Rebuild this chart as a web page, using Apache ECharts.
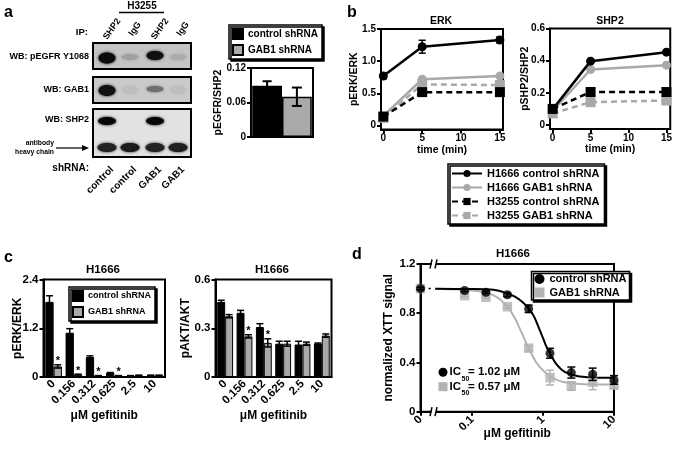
<!DOCTYPE html>
<html><head><meta charset="utf-8">
<script src="https://cdn.jsdelivr.net/npm/echarts@6/dist/echarts.min.js"></script>
<style>html,body{margin:0;padding:0;background:#fff}#chart{width:675px;height:449px}</style>
</head><body><div id="chart"></div>
<script>
// ================= DATA =================
// panel a
const aGroups = ['control shRNA', 'GAB1 shRNA'];
const aValues = [0.089, 0.070];
const aErrors = [0.008, 0.016];
const ipLabels = ['SHP2', 'IgG', 'SHP2', 'IgG'];
const shrnaLabels = ['control', 'control', 'GAB1', 'GAB1'];
const wbLabels = ['WB: pEGFR Y1068', 'WB: GAB1', 'WB: SHP2'];
const bandPEGFR = [0.95, 0.18, 0.92, 0.12];
const bandGAB1 = [0.92, 0.06, 0.45, 0.06];
const bandSHP2 = [0.97, 0, 0.97, 0];
const bandHeavy = [0.85, 0.88, 0.85, 0.86];

// panel b
const bTimes = [0, 5, 15];
const bNames = ['H1666 control shRNA', 'H1666 GAB1 shRNA', 'H3255 control shRNA', 'H3255 GAB1 shRNA'];
const erkH1666Ctrl = [0.77, 1.225, 1.33];
const erkH1666CtrlErr = [0.04, 0.1, 0.05];
const erkH1666Gab1 = [0.15, 0.72, 0.77];
const erkH3255Ctrl = [0.14, 0.52, 0.52];
const erkH3255Gab1 = [0.12, 0.64, 0.63];
const shpH1666Ctrl = [0.097, 0.397, 0.453];
const shpH1666Gab1 = [0.087, 0.345, 0.372];
const shpH3255Ctrl = [0.1, 0.205, 0.205];
const shpH3255Gab1 = [0.072, 0.142, 0.152];
const erkTicks = [0, 0.5, 1.0, 1.5];
const shpTicks = [0, 0.2, 0.4, 0.6];
const timeTicks = [0, 5, 10, 15];

// panel c
const cDoses = ['0', '0.156', '0.312', '0.625', '2.5', '10'];
const perkCtrl = [1.85, 1.09, 0.49, 0.1, 0.03, 0.04];
const perkCtrlErr = [0.15, 0.1, 0.03, 0.01, 0.005, 0.005];
const perkGab1 = [0.26, 0.06, 0.03, 0.03, 0.04, 0.04];
const perkGab1Err = [0.04, 0.01, 0.005, 0.005, 0.005, 0.005];
const perkStars = [1, 1, 1, 1, 0, 0];
const paktCtrl = [0.462, 0.395, 0.308, 0.205, 0.2, 0.205];
const paktCtrlErr = [0.01, 0.015, 0.02, 0.015, 0.02, 0.004];
const paktGab1 = [0.374, 0.25, 0.21, 0.205, 0.205, 0.255];
const paktGab1Err = [0.01, 0.01, 0.025, 0.015, 0.01, 0.01];
const paktStars = [0, 1, 1, 0, 0, 0];

// panel d
const dConc = [0, 0.078, 0.156, 0.3125, 0.625, 1.25, 2.5, 5, 10];
const dCtrl = [1.0, 0.985, 0.97, 0.95, 0.836, 0.475, 0.318, 0.304, 0.258];
const dCtrlErr = [0.01, 0.01, 0.01, 0.015, 0.03, 0.04, 0.045, 0.05, 0.035];
const dGab1 = [1.0, 0.943, 0.93, 0.853, 0.516, 0.277, 0.209, 0.239, 0.217];
const dGab1Err = [0.01, 0.01, 0.01, 0.01, 0.02, 0.06, 0.035, 0.06, 0.03];
const dCtrlFitConc = [0.03, 0.1, 0.2, 0.3, 0.4, 0.5, 0.625, 0.75, 0.9, 1.0, 1.1, 1.25, 1.5, 2.0, 3.0, 5.0, 10];
const dCtrlFitVal = [0.998, 0.997, 0.99, 0.965, 0.935, 0.895, 0.84, 0.77, 0.66, 0.595, 0.535, 0.475, 0.395, 0.325, 0.29, 0.278, 0.275];
const dGab1FitConc = [0.03, 0.1, 0.15, 0.2, 0.25, 0.3125, 0.4, 0.5, 0.625, 0.8, 1.0, 1.25, 1.6, 2.0, 3.0, 5.0, 10];
const dGab1FitVal = [0.998, 0.985, 0.97, 0.945, 0.91, 0.855, 0.76, 0.64, 0.515, 0.4, 0.335, 0.29, 0.257, 0.24, 0.228, 0.222, 0.22];
const dLeadConc = [0, 0.026];
const dLeadVal = [1.0, 1.0];
const dTickConc = [0, 0.1, 1, 10];
const dIC50 = ['1.02', '0.57'];

// ================= HELPERS =================
const FONT = '"Liberation Sans", Arial, Helvetica, sans-serif';
const GRAY = '#a9a9a9';
const DGRAY = '#b3b3b3';
const D_ZERO = -1.73; // axis position used for the "0" dose on the broken log axis
const lx = c => c === 0 ? D_ZERO : Math.log10(c);
const TXT = {fontFamily: FONT, fontWeight: 'bold', color: '#000'};

function merge(a, b) {
  const o = Object.assign({}, a);
  for (const k in b) {
    const bv = b[k], av = a ? a[k] : undefined;
    if (bv && typeof bv === 'object' && !Array.isArray(bv) && av && typeof av === 'object' && !Array.isArray(av)) o[k] = merge(av, bv);
    else o[k] = bv;
  }
  return o;
}
const baseAxis = {
  axisLine: {show: true, onZero: false, lineStyle: {color: '#000', width: 2}},
  axisTick: {show: true, inside: false, length: 4, lineStyle: {color: '#000', width: 2}},
  splitLine: {show: false},
  axisLabel: Object.assign({fontSize: 10, margin: 5}, TXT),
  nameTextStyle: Object.assign({fontSize: 10.5}, TXT),
  nameLocation: 'middle',
  nameMoveOverlap: false
};
const ax = o => merge(baseAxis, o);
const fmt = d => v => (Math.abs(v) < 1e-9 ? '0' : v.toFixed(d));

function errBars(xi, yi, xs, ys, es, color, opt) {
  opt = opt || {};
  return {
    type: 'custom', xAxisIndex: xi, yAxisIndex: yi, silent: true, z: opt.z || 5,
    data: xs.map((x, i) => [x, ys[i], es[i]]),
    renderItem: function (params, api) {
      const x = api.value(0), y = api.value(1), e = api.value(2);
      const top = api.coord([x, y + e]);
      const bot = api.coord([x, y - e]);
      let px = top[0];
      if (opt.shift) px += opt.shift * api.size([1, 0])[0];
      const cw = opt.cap || 3.5;
      const st = {stroke: color, lineWidth: opt.lw || 1.5};
      return {type: 'group', children: [
        {type: 'line', shape: {x1: px, y1: top[1], x2: px, y2: bot[1]}, style: st},
        {type: 'line', shape: {x1: px - cw, y1: top[1], x2: px + cw, y2: top[1]}, style: st},
        {type: 'line', shape: {x1: px - cw, y1: bot[1], x2: px + cw, y2: bot[1]}, style: st}
      ]};
    }
  };
}
function stars(xi, yi, flags, vals, errs, shift) {
  const data = [];
  flags.forEach((f, i) => { if (f) data.push([i, vals[i] + errs[i]]); });
  return {
    type: 'custom', xAxisIndex: xi, yAxisIndex: yi, silent: true, z: 6, data,
    renderItem: function (params, api) {
      const p = api.coord([api.value(0), api.value(1)]);
      const px = p[0] + shift * api.size([1, 0])[0];
      return {type: 'text', x: px, y: p[1] + 2, style: {text: '*', font: 'bold 11px ' + FONT, fill: '#000', align: 'center', textAlign: 'center', verticalAlign: 'bottom', textVerticalAlign: 'bottom'}};
    }
  };
}
function bLine(name, gi, vals, color, dashed, symbol, z) {
  return {
    type: 'line', name, xAxisIndex: gi, yAxisIndex: gi, z,
    data: bTimes.map((t, i) => [t, vals[i]]),
    symbol, symbolSize: symbol === 'rect' ? 10 : 9,
    itemStyle: {color}, lineStyle: {color, width: 2.5, type: dashed ? [6, 4] : 'solid'}
  };
}
function txt(x, y, s, size, o) {
  return Object.assign({type: 'text', x, y, z: 50, style: {text: s, font: 'bold ' + size + 'px ' + FONT, fill: '#000',
    align: (o && o.align) || 'left', textAlign: (o && o.align) || 'left', verticalAlign: 'middle', textVerticalAlign: 'middle'}}, o && o.el ? o.el : {});
}
const legendBase = {
  orient: 'vertical', borderColor: '#000', borderWidth: 1.5, backgroundColor: '#fff',
  shadowColor: '#000', shadowOffsetX: 2, shadowOffsetY: 2, shadowBlur: 0.5,
  selectedMode: false, itemGap: 3
};

// ================= GRAPHICS (panel a blot etc.) =================
const lanesX = [107, 130, 155, 178];
const g = [];
// panel letters
g.push(txt(4, 13, 'a', 16), txt(347, 13, 'b', 16), txt(4, 258, 'c', 16), txt(352, 255, 'd', 16));
// panel a header
g.push(txt(142, 6.5, 'H3255', 10, {align: 'center'}));
g.push({type: 'line', z: 50, shape: {x1: 119, y1: 12.5, x2: 164, y2: 12.5}, style: {stroke: '#000', lineWidth: 1.5}});
g.push(txt(88, 32, 'IP:', 9.5, {align: 'right'}));
ipLabels.forEach((s, i) => g.push(txt(lanesX[i] + 5, 29, s, 9, {align: 'center', el: {rotation: 55 * Math.PI / 180}})));
// blots
const blots = [{y: 43, h: 26, bg: 196}, {y: 77, h: 26, bg: 202}, {y: 109, h: 48, bg: 226}];
blots.forEach(b => g.push({type: 'rect', z: 40, shape: {x: 93, y: b.y, width: 98, height: b.h},
  style: {fill: 'rgb(' + b.bg + ',' + b.bg + ',' + b.bg + ')', stroke: '#000', lineWidth: 2}}));
const bandRows = [
  {blot: 0, cy: [58, 57, 55.5, 57], rx: 8.5, ry: [5.5, 3, 4.5, 3], inten: bandPEGFR},
  {blot: 1, cy: [90.5, 90, 89, 90], rx: 8.5, ry: [5.5, 4, 3, 4], inten: bandGAB1},
  {blot: 2, cy: [121, 121, 121, 121], rx: 9, ry: [4, 4, 4, 4], inten: bandSHP2},
  {blot: 2, cy: [147.5, 147.5, 147.5, 147.5], rx: 9.5, ry: [4.5, 4.5, 4.5, 4.5], inten: bandHeavy}
];
bandRows.forEach(r => r.inten.forEach((v, i) => {
  if (v <= 0) return;
  const lvl = Math.round(blots[r.blot].bg * (1 - v));
  const c = 'rgb(' + lvl + ',' + lvl + ',' + lvl + ')';
  g.push({type: 'ellipse', z: 41, shape: {cx: lanesX[i], cy: r.cy[i], rx: r.rx, ry: r.ry[i]},
    style: {fill: c, shadowBlur: 3, shadowColor: c}});
}));
// restroke blot borders on top
blots.forEach(b => g.push({type: 'rect', z: 42, shape: {x: 93, y: b.y, width: 98, height: b.h},
  style: {fill: 'none', stroke: '#000', lineWidth: 2}}));
g.push(txt(89, 57, wbLabels[0], 9, {align: 'right'}), txt(89, 90, wbLabels[1], 9, {align: 'right'}), txt(89, 120, wbLabels[2], 9, {align: 'right'}));
g.push(txt(54, 143, 'antibody', 6.8, {align: 'right'}), txt(54, 152, 'heavy chain', 6.8, {align: 'right'}));
g.push({type: 'line', z: 50, shape: {x1: 56, y1: 148, x2: 84, y2: 148}, style: {stroke: '#000', lineWidth: 1.2}});
g.push({type: 'polygon', z: 50, shape: {points: [[89, 148], [82, 145], [82, 151]]}, style: {fill: '#000'}});
g.push(txt(89, 168, 'shRNA:', 10, {align: 'right'}));
shrnaLabels.forEach((s, i) => g.push(txt(lanesX[i] + 5, 168, s, 10, {align: 'right', el: {rotation: Math.PI / 4}})));
// titles
g.push(txt(441, 21, 'ERK', 10.5, {align: 'center'}), txt(610, 21, 'SHP2', 10.5, {align: 'center'}));
g.push(txt(103, 270, 'H1666', 11.5, {align: 'center'}), txt(272, 270, 'H1666', 11.5, {align: 'center'}));
g.push(txt(513, 254, 'H1666', 11.5, {align: 'center'}));
// panel d axis breaks
[264, 411.7].forEach(y => {
  g.push({type: 'rect', z: 60, shape: {x: 431.5, y: y - 3, width: 4.5, height: 6}, style: {fill: '#fff'}});
  g.push({type: 'line', z: 61, shape: {x1: 430, y1: y + 4.5, x2: 432, y2: y - 4.5}, style: {stroke: '#000', lineWidth: 1.5}});
  g.push({type: 'line', z: 61, shape: {x1: 435, y1: y + 4.5, x2: 437, y2: y - 4.5}, style: {stroke: '#000', lineWidth: 1.5}});
});
// panel d IC50 annotations
g.push({type: 'circle', z: 50, shape: {cx: 443, cy: 372.3, r: 4.5}, style: {fill: '#000'}});
g.push({type: 'rect', z: 50, shape: {x: 438.5, y: 382.2, width: 9, height: 9}, style: {fill: DGRAY}});
[372.3, 386.7].forEach((y, i) => {
  g.push(txt(449.5, y, 'IC', 11.5), txt(461.5, y + 6.5, '50', 7), txt(468, y, '= ' + dIC50[i] + ' \u03bcM', 11.5));
});

// ================= OPTION =================
const option = {
  animation: false,
  backgroundColor: '#fff',
  textStyle: {fontFamily: FONT},
  grid: [
    {left: 251, top: 68, width: 62, height: 69},
    {left: 381, top: 29, width: 122, height: 100.5},
    {left: 550, top: 28.5, width: 122, height: 100.5},
    {left: 43.5, top: 279.5, width: 121.5, height: 97.5},
    {left: 215.5, top: 279.5, width: 116, height: 97.5},
    {left: 420.5, top: 264, width: 193.5, height: 147.7}
  ].map(o => Object.assign({show: true, borderColor: '#000', borderWidth: 2, backgroundColor: 'transparent'}, o)),
  xAxis: [
    ax({type: 'category', gridIndex: 0, data: ['pEGFR'], axisTick: {show: false}, axisLabel: {show: false}}),
    ax({type: 'value', gridIndex: 1, min: -0.3, max: 15.4, name: 'time (min)', nameGap: 15,
      axisLabel: {customValues: timeTicks, margin: 4}, axisTick: {customValues: timeTicks}}),
    ax({type: 'value', gridIndex: 2, min: -0.35, max: 15.5, name: 'time (min)', nameGap: 15,
      axisLabel: {customValues: timeTicks, margin: 4}, axisTick: {customValues: timeTicks}}),
    ax({type: 'category', gridIndex: 3, data: cDoses, axisTick: {show: false}, name: '\u03bcM gefitinib', nameGap: 33,
      axisLabel: {rotate: 45, fontSize: 11.5, interval: 0, margin: 5}, nameTextStyle: {fontSize: 12}}),
    ax({type: 'category', gridIndex: 4, data: cDoses, axisTick: {show: false}, name: '\u03bcM gefitinib', nameGap: 33,
      axisLabel: {rotate: 45, fontSize: 11.5, interval: 0, margin: 5}, nameTextStyle: {fontSize: 12}}),
    ax({type: 'value', gridIndex: 5, min: D_ZERO, max: 1, name: '\u03bcM gefitinib', nameGap: 16, nameTextStyle: {fontSize: 12},
      axisLabel: {customValues: dTickConc.map(lx), rotate: 45, fontSize: 11.5, margin: 6,
        formatter: v => { let k = 0, best = 1e9; dTickConc.forEach((c, i) => { const d = Math.abs(lx(c) - v); if (d < best) { best = d; k = i; } }); return String(dTickConc[k]); }},
      axisTick: {customValues: dTickConc.map(lx)}})
  ],
  yAxis: [
    ax({type: 'value', gridIndex: 0, min: 0, max: 0.12, interval: 0.06, name: 'pEGFR/SHP2', nameGap: 27, axisLabel: {formatter: fmt(2)}}),
    ax({type: 'value', gridIndex: 1, min: -0.06, max: 1.5, name: 'pERK/ERK', nameGap: 21,
      axisLabel: {customValues: erkTicks, formatter: fmt(1)}, axisTick: {customValues: erkTicks}}),
    ax({type: 'value', gridIndex: 2, min: -0.025, max: 0.6, name: 'pSHP2/SHP2', nameGap: 19,
      axisLabel: {customValues: shpTicks, formatter: fmt(1)}, axisTick: {customValues: shpTicks}}),
    ax({type: 'value', gridIndex: 3, min: 0, max: 2.4, interval: 1.2, name: 'pERK/ERK', nameGap: 20,
      axisLabel: {fontSize: 11.5, formatter: fmt(1)}, nameTextStyle: {fontSize: 12}}),
    ax({type: 'value', gridIndex: 4, min: 0, max: 0.6, interval: 0.3, name: 'pAKT/AKT', nameGap: 24,
      axisLabel: {fontSize: 11.5, formatter: fmt(1)}, nameTextStyle: {fontSize: 12}}),
    ax({type: 'value', gridIndex: 5, min: 0, max: 1.2, interval: 0.4, name: 'normalized XTT signal', nameGap: 26,
      axisLabel: {fontSize: 11.5, formatter: fmt(1)}, nameTextStyle: {fontSize: 12}})
  ],
  legend: [
    Object.assign({}, legendBase, {data: aGroups, left: 229, top: 25, icon: 'rect', itemWidth: 10, itemHeight: 10, itemGap: 4,
      padding: [3, 4, 3, 3], textStyle: Object.assign({fontSize: 10}, TXT)}),
    Object.assign({}, legendBase, {data: bNames, left: 448, top: 164, itemWidth: 30, itemHeight: 9, itemGap: 3,
      padding: [4, 5, 3, 3], textStyle: Object.assign({fontSize: 11}, TXT)}),
    Object.assign({}, legendBase, {data: aGroups, left: 69, top: 287, icon: 'rect', itemWidth: 10, itemHeight: 10, itemGap: 4,
      padding: [3, 4, 3, 3], textStyle: Object.assign({fontSize: 9}, TXT)}),
    Object.assign({}, legendBase, {left: 531.5, top: 271.5, itemWidth: 10, itemHeight: 10, itemGap: 2.5,
      padding: [2, 3, 2, 3], textStyle: Object.assign({fontSize: 11}, TXT),
      data: [{name: aGroups[0], icon: 'circle', itemStyle: {color: '#000', borderWidth: 0}},
             {name: aGroups[1], icon: 'rect', itemStyle: {color: DGRAY, borderWidth: 0}}]})
  ],
  graphic: {elements: g},
  series: [
    // ---- panel a bars
    {type: 'bar', name: aGroups[0], xAxisIndex: 0, yAxisIndex: 0, data: [aValues[0]], barGap: '0%', barCategoryGap: '4%',
      itemStyle: {color: '#000', borderColor: '#000', borderWidth: 1.5}},
    {type: 'bar', name: aGroups[1], xAxisIndex: 0, yAxisIndex: 0, data: [aValues[1]], barGap: '0%', barCategoryGap: '4%',
      itemStyle: {color: GRAY, borderColor: '#000', borderWidth: 1.5}},
    errBars(0, 0, [0], [aValues[0]], [aErrors[0]], '#000', {shift: -0.24, cap: 4.5, lw: 2}),
    errBars(0, 0, [0], [aValues[1]], [aErrors[1]], '#000', {shift: 0.24, cap: 5, lw: 2}),
    // ---- panel b ERK
    bLine(bNames[3], 1, erkH3255Gab1, GRAY, true, 'rect', 2),
    bLine(bNames[1], 1, erkH1666Gab1, GRAY, false, 'circle', 3),
    bLine(bNames[2], 1, erkH3255Ctrl, '#000', true, 'rect', 4),
    bLine(bNames[0], 1, erkH1666Ctrl, '#000', false, 'circle', 5),
    errBars(1, 1, bTimes, erkH1666Ctrl, erkH1666CtrlErr, '#000', {cap: 3.5, lw: 1.5, z: 6}),
    // ---- panel b SHP2
    bLine(bNames[3], 2, shpH3255Gab1, GRAY, true, 'rect', 2),
    bLine(bNames[1], 2, shpH1666Gab1, GRAY, false, 'circle', 3),
    bLine(bNames[2], 2, shpH3255Ctrl, '#000', true, 'rect', 4),
    bLine(bNames[0], 2, shpH1666Ctrl, '#000', false, 'circle', 5),
    // ---- panel c pERK
    {type: 'bar', name: aGroups[0], xAxisIndex: 3, yAxisIndex: 3, data: perkCtrl, barGap: '0%', barCategoryGap: '18%',
      itemStyle: {color: '#000', borderColor: '#000', borderWidth: 1}},
    {type: 'bar', name: aGroups[1], xAxisIndex: 3, yAxisIndex: 3, data: perkGab1, barGap: '0%', barCategoryGap: '18%',
      itemStyle: {color: GRAY, borderColor: '#000', borderWidth: 1}},
    errBars(3, 3, cDoses.map((d, i) => i), perkCtrl, perkCtrlErr, '#000', {shift: -0.205, cap: 3.5}),
    errBars(3, 3, cDoses.map((d, i) => i), perkGab1, perkGab1Err, '#000', {shift: 0.205, cap: 3.5}),
    stars(3, 3, perkStars, perkGab1, perkGab1Err, 0.205),
    // ---- panel c pAKT
    {type: 'bar', name: aGroups[0], xAxisIndex: 4, yAxisIndex: 4, data: paktCtrl, barGap: '0%', barCategoryGap: '18%',
      itemStyle: {color: '#000', borderColor: '#000', borderWidth: 1}},
    {type: 'bar', name: aGroups[1], xAxisIndex: 4, yAxisIndex: 4, data: paktGab1, barGap: '0%', barCategoryGap: '18%',
      itemStyle: {color: GRAY, borderColor: '#000', borderWidth: 1}},
    errBars(4, 4, cDoses.map((d, i) => i), paktCtrl, paktCtrlErr, '#000', {shift: -0.205, cap: 3.5}),
    errBars(4, 4, cDoses.map((d, i) => i), paktGab1, paktGab1Err, '#000', {shift: 0.205, cap: 3.5}),
    stars(4, 4, paktStars, paktGab1, paktGab1Err, 0.205),
    // ---- panel d
    {type: 'line', xAxisIndex: 5, yAxisIndex: 5, silent: true, symbol: 'none', z: 2,
      data: dLeadConc.map((c, i) => [lx(c), dLeadVal[i]]), lineStyle: {color: '#000', width: 1.5, type: [4, 4]}},
    {type: 'line', xAxisIndex: 5, yAxisIndex: 5, silent: true, symbol: 'none', smooth: 0.3, z: 2,
      data: dGab1FitConc.map((c, i) => [lx(c), dGab1FitVal[i]]), lineStyle: {color: DGRAY, width: 2}},
    {type: 'line', xAxisIndex: 5, yAxisIndex: 5, silent: true, symbol: 'none', smooth: 0.3, z: 3,
      data: dCtrlFitConc.map((c, i) => [lx(c), dCtrlFitVal[i]]), lineStyle: {color: '#000', width: 2}},
    errBars(5, 5, dConc.map(lx), dGab1, dGab1Err, DGRAY, {cap: 4, lw: 1.5, z: 3}),
    {type: 'scatter', name: aGroups[1], xAxisIndex: 5, yAxisIndex: 5, symbol: 'rect', symbolSize: 9.5, z: 4,
      data: dConc.map((c, i) => [lx(c), dGab1[i]]), itemStyle: {color: DGRAY}},
    errBars(5, 5, dConc.map(lx), dCtrl, dCtrlErr, '#000', {cap: 4, lw: 1.5, z: 5}),
    {type: 'scatter', name: aGroups[0], xAxisIndex: 5, yAxisIndex: 5, symbol: 'circle', symbolSize: 9, z: 6,
      data: dConc.map((c, i) => [lx(c), dCtrl[i]]), itemStyle: {color: '#000'}}
  ]
};
const chart = echarts.init(document.getElementById('chart'), null, {renderer: 'canvas'});
chart.setOption(option);
</script></body></html>
